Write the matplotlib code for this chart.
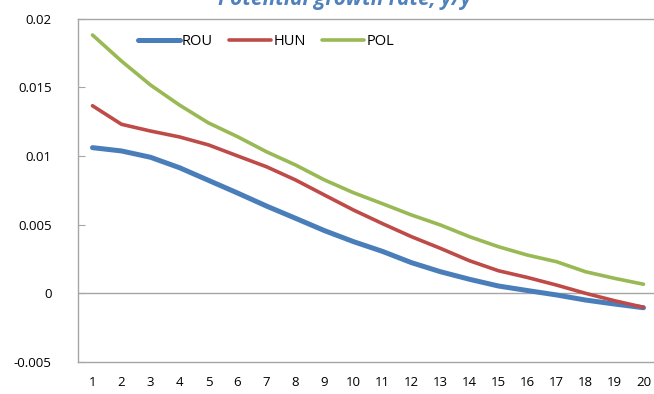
import matplotlib
matplotlib.use("Agg")
import matplotlib.pyplot as plt

plt.rcParams['font.family'] = ['Open Sans', 'DejaVu Sans']

years = list(range(1, 21))
rou = [0.0106, 0.01036, 0.0099, 0.00914, 0.00822, 0.0073, 0.00635, 0.00546, 0.00456, 0.00376,
       0.00305, 0.00223, 0.00157, 0.00102, 0.00053, 0.0002, -0.00012, -0.00049, -0.00078, -0.00105]
hun = [0.01365, 0.0123, 0.01181, 0.01138, 0.0108, 0.01, 0.00921, 0.00825, 0.00715, 0.00606,
       0.00507, 0.00412, 0.00327, 0.00237, 0.00164, 0.00115, 0.0006, 0.0, -0.00054, -0.00102]
pol = [0.0188, 0.0169, 0.01516, 0.0137, 0.0124, 0.0114, 0.0103, 0.00934, 0.00825, 0.00732,
       0.00652, 0.0057, 0.00497, 0.00412, 0.00339, 0.00278, 0.0023, 0.00157, 0.00109, 0.00066]
series_names = ["ROU", "HUN", "POL"]
colors = ["#4A7EBB", "#BE4B48", "#98B954"]
yticks = [-0.005, 0, 0.005, 0.01, 0.015, 0.02]
ytick_labels = ["-0.005", "0", "0.005", "0.01", "0.015", "0.02"]

fig = plt.figure(figsize=(6.54, 3.94), dpi=100)
W, H = 654, 394
ax = fig.add_axes([78 / W, (H - 362) / H, 580 / W, (362 - 18.5) / H])

widths = [3.6, 2.6, 2.6]
for vals, name, c, lw in zip([rou, hun, pol], series_names, colors, widths):
    ax.plot(years, vals, color=c, lw=lw, label=name, solid_capstyle='round', solid_joinstyle='round')

ax.set_xlim(0.5, 20.5)
ax.set_ylim(-0.005, 0.02)
ax.set_yticks(yticks)
ax.set_yticklabels(ytick_labels)
ax.set_xticks(years)
ax.set_xticklabels([str(y) for y in years])
ax.axhline(0, color="#A6A6A6", lw=1.0, zorder=0)

for s in ax.spines.values():
    s.set_color("#A6A6A6")
    s.set_linewidth(1.0)
ax.tick_params(axis='y', direction='in', length=5, color="#A6A6A6", pad=19, labelsize=9.5)
ax.tick_params(axis='x', length=0, pad=10, labelsize=9.5)

leg = ax.legend(loc='upper left', bbox_to_anchor=(0.085, 0.985), ncol=3, frameon=False,
                fontsize=10.5, handlelength=2.9, handletextpad=0.15, columnspacing=1.1,
                borderaxespad=0.3)

fig.text(345 / W, 1 - 5 / H, "Potential growth rate, y/y", ha='center', va='baseline',
         fontsize=15, fontweight='bold', fontstyle='italic', color="#4F81BD")

fig.savefig("out.png", dpi=100)
